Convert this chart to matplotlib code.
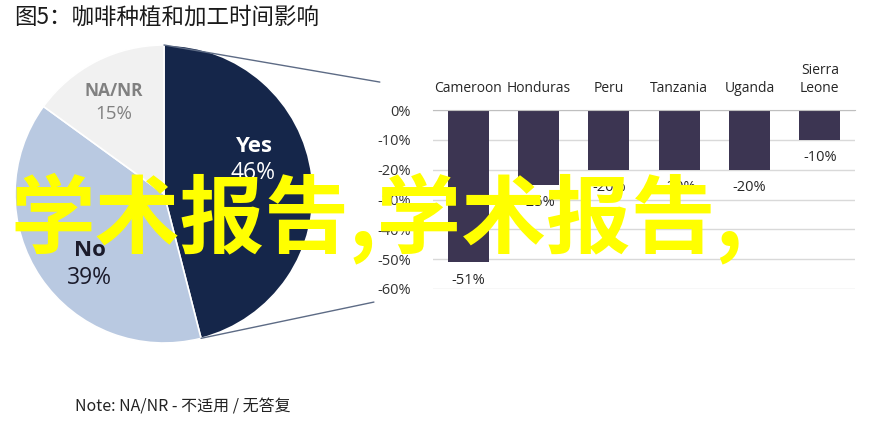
import numpy as np
import matplotlib
matplotlib.use("Agg")
from matplotlib import pyplot as plt
from matplotlib.patches import ConnectionPatch

plt.rcParams['font.family'] = ['Noto Sans CJK SC', 'DejaVu Sans']

# pie data
pie_labels = ['Yes', 'No', 'NA/NR']
pie_values = [46, 39, 15]
pie_colors = ['#15264a', '#b9c9e1', '#f1f1f1']

# bar data
countries = ['Cameroon', 'Honduras', 'Peru', 'Tanzania', 'Uganda', 'Sierra\nLeone']
changes = [-51, -25, -20, -20, -20, -10]

title = '图5：咖啡种植和加工时间影响'
note = 'Note: NA/NR - 不适用 / 无答复'
watermark = '学术报告,学术报告,'

LAT = ['Open Sans', 'DejaVu Sans']

W, H = 872, 425
fig = plt.figure(figsize=(W / 100, H / 100), dpi=100)

# pie axes (center ~ (164,194), radius ~149 px)
ax1 = fig.add_axes([15 / W, (H - 343) / H, 298 / W, 298 / H])
wedges, _ = ax1.pie(pie_values, colors=pie_colors, startangle=90, counterclock=False,
                    radius=1, wedgeprops=dict(edgecolor='white', linewidth=1.2))
ax1.set_xlim(-1, 1)
ax1.set_ylim(-1, 1)
ax1.set_aspect('equal')
ax1.axis('off')

# slice labels
label_pos = {'Yes': (0.60, 0.25), 'No': (-0.50, -0.45), 'NA/NR': (-0.34, 0.63)}
label_style = {'Yes': ('white', 16, 16.5),
               'No': ('#1b1b2b', 16, 16.5),
               'NA/NR': ('#808080', 12.5, 13.5)}
for name, val in zip(pie_labels, pie_values):
    x, y = label_pos[name]
    col, fs, fs2 = label_style[name]
    ax1.text(x, y, name, ha='center', va='bottom', color=col, fontsize=fs,
             fontweight='bold', family=LAT)
    ax1.text(x, y - 0.03, f'{val}%', ha='center', va='top', color=col, fontsize=fs2,
             family=LAT)

# bar axes
ax2 = fig.add_axes([433 / W, (H - 289) / H, 422 / W, 179 / H])
xpos = np.arange(len(countries))
ax2.bar(xpos, changes, width=0.58, color='#3c3552')
ax2.set_ylim(-60, 0)
ax2.set_xlim(-0.5, len(countries) - 0.5)
ticks = np.arange(-60, 1, 10)
ax2.set_yticks(ticks)
ax2.set_yticklabels([f'{v}%' for v in ticks], family=LAT)
ax2.yaxis.grid(True, color='#d9d9d9', linewidth=1)
ax2.set_axisbelow(True)
for s in ['left', 'right', 'bottom']:
    ax2.spines[s].set_visible(False)
ax2.spines['top'].set_color('#bfbfbf')
ax2.xaxis.tick_top()
ax2.set_xticks(xpos)
ax2.set_xticklabels(countries, fontsize=10, color='#262626', linespacing=1.3, family=LAT)
ax2.tick_params(axis='x', length=0, pad=10)
ax2.tick_params(axis='y', length=0, pad=16, labelsize=10.5, labelcolor='#333333')
for x, v in zip(xpos, changes):
    ax2.annotate(f'{v}%', (x, v), xytext=(0, -13), textcoords='offset points',
                 ha='center', va='center', fontsize=10.5, color='#262626', family=LAT)

# connector lines from Yes wedge edges to bar chart
th_end = np.deg2rad(90 - pie_values[0] / 100 * 360)
for pa, pb in [((0, 1), (-0.126, 1.156)), ((np.cos(th_end), np.sin(th_end)), (-0.14, -0.073))]:
    con = ConnectionPatch(xyA=pa, coordsA='data', axesA=ax1,
                          xyB=pb, coordsB=ax2.transAxes, axesB=ax2,
                          color='#5d6b85', linewidth=1)
    fig.add_artist(con)

fig.text(14 / W, 1 - 17 / H, title, ha='left', va='center', fontsize=16.2, color='#1a1a1a')
fig.text(75 / W, 1 - 407 / H, note, ha='left', va='center', fontsize=11.5, color='#222222')

# yellow overlay text
fig.text(10 / W, 1 - 218 / H, watermark, ha='left', va='center', fontsize=61,
         color='#ffff00', fontweight='bold')

fig.savefig('out.png', dpi=100, facecolor='white')
